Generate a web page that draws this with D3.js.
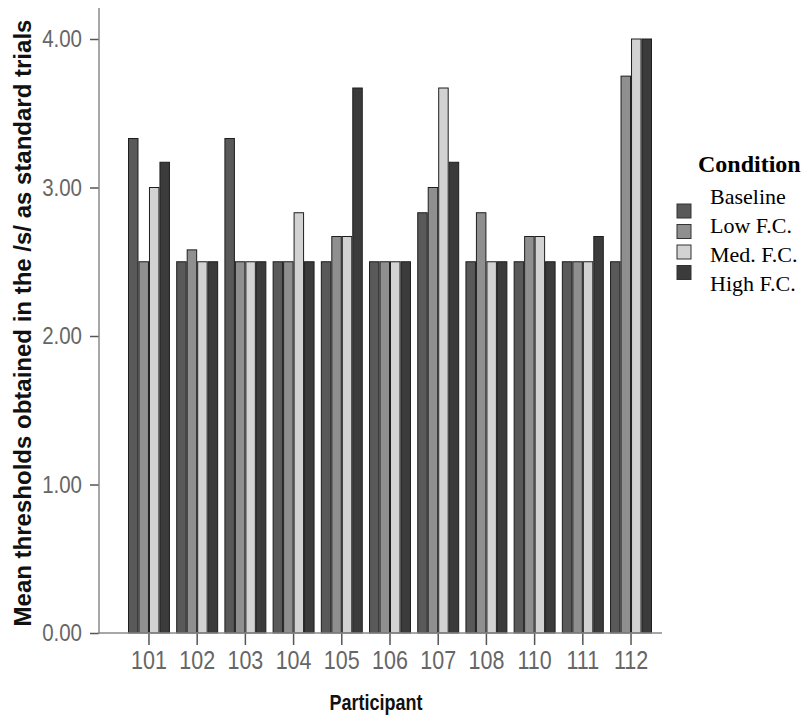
<!DOCTYPE html>
<html><head><meta charset="utf-8">
<script src="https://cdn.jsdelivr.net/npm/d3@7"></script>
<style>
html,body{margin:0;padding:0;background:#fff;}
svg{display:block;}
</style></head>
<body>
<svg id="chart" width="812" height="720"></svg>
<script>
const participants = ["101","102","103","104","105","106","107","108","110","111","112"];
const conditions = ["Baseline","Low F.C.","Med. F.C.","High F.C."];
const baseline = [3.33,2.50,3.33,2.50,2.50,2.50,2.83,2.50,2.50,2.50,2.50];
const lowFC    = [2.50,2.58,2.50,2.50,2.67,2.50,3.00,2.83,2.67,2.50,3.75];
const medFC    = [3.00,2.50,2.50,2.83,2.67,2.50,3.67,2.50,2.67,2.50,4.00];
const highFC   = [3.17,2.50,2.50,2.50,3.67,2.50,3.17,2.50,2.50,2.67,4.00];
const yTicks = [0,1,2,3,4];
const colors = ["#595959","#8f8f8f","#d2d2d2","#3b3b3b"];

const series = [baseline, lowFC, medFC, highFC];
const svg = d3.select("#chart");
const sans = "'Liberation Sans',Arial,sans-serif";

const y = d3.scaleLinear().domain([0,4]).range([633,39]);
const x0 = d3.scaleBand().domain(participants).range([128,652]).paddingInner(0.13).paddingOuter(0);
const x1 = d3.scaleBand().domain(conditions).range([0,x0.bandwidth()]);
const color = d3.scaleOrdinal().domain(conditions).range(colors);

// bars
const rows = participants.map((p,i)=>({p, vals: conditions.map((c,j)=>({c, v: series[j][i]}))}));
const g = svg.append("g");
g.selectAll("g.grp").data(rows).join("g")
  .attr("transform", d=>`translate(${x0(d.p)},0)`)
  .selectAll("rect").data(d=>d.vals).join("rect")
  .attr("x", d=>x1(d.c)+0.5)
  .attr("y", d=>y(d.v))
  .attr("width", x1.bandwidth()-1)
  .attr("height", d=>y(0)-y(d.v))
  .attr("fill", d=>color(d.c))
  .attr("stroke", "#1e1e1e")
  .attr("stroke-width", 1);

// y axis
const yAxis = svg.append("g").attr("transform","translate(99,0)")
  .call(d3.axisLeft(y).tickValues(yTicks).tickFormat(d3.format(".2f")).tickSize(9).tickPadding(8));
yAxis.select(".domain").remove();
yAxis.selectAll(".tick line").attr("stroke","#555").attr("stroke-width",1.5);
yAxis.selectAll(".tick text").attr("fill","#666").style("font-family",sans).style("font-size","20.5px")
  .attr("dy",null).attr("transform","translate(0,7.5) scale(1,1.2)").attr("y",0);

svg.append("line").attr("x1",99).attr("x2",99).attr("y1",8).attr("y2",634)
  .attr("stroke","#8a8a8a").attr("stroke-width",1.5);

// x axis
const xAxis = svg.append("g").attr("transform","translate(0,633)")
  .call(d3.axisBottom(x0).tickSize(12).tickPadding(6));
xAxis.select(".domain").remove();
xAxis.selectAll(".tick line").attr("stroke","#555").attr("stroke-width",1.5);
xAxis.selectAll(".tick text").attr("fill","#666").style("font-family",sans).style("font-size","21.5px")
  .attr("dy",null).attr("y",0).attr("transform","translate(0,36) scale(1,1.18)");
svg.append("line").attr("x1",98).attr("x2",662).attr("y1",633).attr("y2",633)
  .attr("stroke","#8a8a8a").attr("stroke-width",1.5);

// axis titles
svg.append("text").attr("transform","translate(376,710) scale(1,1.25)").attr("text-anchor","middle")
  .style("font-family",sans).style("font-size","18px").style("font-weight","bold").attr("fill","#111")
  .text("Participant");
svg.append("text").attr("transform","translate(31,323) rotate(-90)").attr("text-anchor","middle")
  .style("font-family",sans).style("font-size","24px").style("font-weight","bold").attr("fill","#111")
  .text("Mean thresholds obtained in the /s/ as standard trials");

// legend
const serif = "'Liberation Serif','Times New Roman',serif";
svg.append("text").attr("x",698).attr("y",172)
  .style("font-family",serif).style("font-size","24px").style("font-weight","bold").attr("fill","#000")
  .text("Condition");
const leg = svg.append("g");
leg.selectAll("rect").data(conditions).join("rect")
  .attr("x",677).attr("y",(d,i)=>204+i*20.5).attr("width",14).attr("height",14)
  .attr("fill",d=>color(d)).attr("stroke","#333").attr("stroke-width",1);
leg.selectAll("text").data(conditions).join("text")
  .attr("x",710).attr("y",(d,i)=>204+i*29)
  .style("font-family",serif).style("font-size","22px").attr("fill","#000")
  .text(d=>d);
</script>
</body></html>
